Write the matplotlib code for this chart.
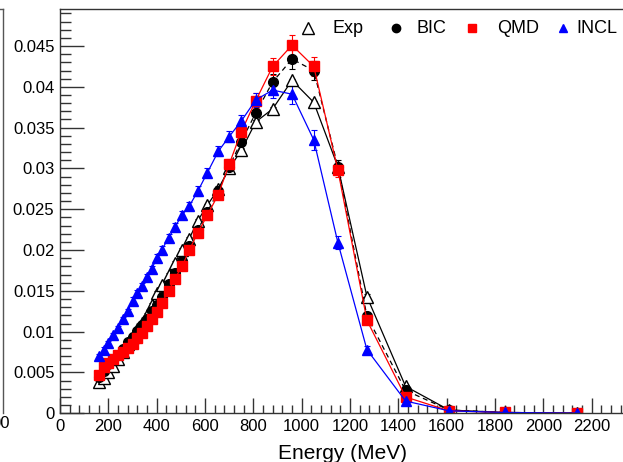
import matplotlib.pyplot as plt
from matplotlib.lines import Line2D

plt.rcParams['font.family'] = ['Liberation Sans', 'DejaVu Sans']

# energy bins (MeV)
energy = [160, 180, 200, 220, 240, 260, 280, 300, 320, 340, 360, 380, 400, 420,
          450, 475, 505, 535, 570, 610, 655, 700, 750, 810, 880, 960, 1050,
          1150, 1270, 1430, 1610, 1840, 2140]

exp_vals = [0.0038, 0.0043, 0.0050, 0.0058, 0.0066, 0.0075, 0.0085, 0.0094,
            0.0103, 0.0111, 0.0121, 0.0133, 0.0148, 0.0157, 0.0170, 0.0184,
            0.0200, 0.0214, 0.0236, 0.0255, 0.0275, 0.0300, 0.0322, 0.0357,
            0.0373, 0.0408, 0.0381, 0.0302, 0.0143, 0.0033, 0.0004, 0.0001,
            0.00003]
bic_vals = [0.0045, 0.0052, 0.0060, 0.0066, 0.0072, 0.0079, 0.0087, 0.0094,
            0.0101, 0.0108, 0.0116, 0.0125, 0.0133, 0.0142, 0.0158, 0.0172,
            0.0187, 0.0205, 0.0225, 0.0247, 0.0272, 0.0302, 0.0333, 0.0368,
            0.0406, 0.0434, 0.0420, 0.0302, 0.0119, 0.0028, 0.0004, 0.0001,
            0.00003]
qmd_vals = [0.0047, 0.0057, 0.0062, 0.0067, 0.0071, 0.0075, 0.0080, 0.0085,
            0.0092, 0.0099, 0.0107, 0.0115, 0.0124, 0.0135, 0.0150, 0.0165,
            0.0180, 0.0200, 0.0221, 0.0243, 0.0268, 0.0305, 0.0345, 0.0383,
            0.0425, 0.0451, 0.0425, 0.0298, 0.0114, 0.0020, 0.0003, 0.0001,
            0.00003]
incl_vals = [0.0070, 0.0078, 0.0086, 0.0096, 0.0104, 0.0115, 0.0125, 0.0138,
             0.0147, 0.0156, 0.0167, 0.0177, 0.0190, 0.0200, 0.0215, 0.0228,
             0.0243, 0.0254, 0.0272, 0.0295, 0.0321, 0.0339, 0.0358, 0.0384,
             0.0396, 0.0391, 0.0335, 0.0209, 0.0078, 0.0015, 0.0003, 0.0001,
             0.00003]

# statistical errors of the simulations and the measurement
model_err = [0.0003, 0.0003, 0.0003, 0.0003, 0.0003, 0.0003, 0.0003, 0.0004,
             0.0004, 0.0004, 0.0004, 0.0004, 0.0005, 0.0005, 0.0005, 0.0005,
             0.0005, 0.0005, 0.0006, 0.0006, 0.0006, 0.0007, 0.0008, 0.0009,
             0.0010, 0.0012, 0.0012, 0.0008, 0.0005, 0.0003, 0.0001, 0.0001,
             0.00005]
exp_err = [0.0002] * 26 + [0.0002, 0.0002, 0.0003, 0.0002, 0.0001, 0.0001, 0.00005]

fig = plt.figure(figsize=(6.23, 4.62), dpi=100)
W, H = 580.0, 404.0  # axes size in pixels
ax = fig.add_axes([60 / 623, 1 - 413.3 / 462, W / 623, H / 462])

series = [
    (exp_vals, exp_err, 'Exp', dict(color='black', marker='^', mfc='white',
                                    mec='black', ms=8, ls='-')),
    (bic_vals, model_err, 'BIC', dict(color='black', marker='o', ms=7,
                                      ls=(0, (4, 3)))),
    (qmd_vals, model_err, 'QMD', dict(color='red', marker='s', ms=7.5, ls='-')),
    (incl_vals, model_err, 'INCL', dict(color='blue', marker='^', ms=7.5,
                                        ls='-')),
]
for vals, err, name, style in series:
    ax.errorbar(energy, vals, yerr=err, lw=0.9, elinewidth=0.8, capsize=2,
                capthick=0.8, **style)

# legend row along the top of the frame (marker x, text x in axes pixels)
legend_pos = [(248, 273), (336, 357), (412, 437), (503, 516)]
for (mx, tx), (_, _, name, style) in zip(legend_pos, series):
    ax.plot([mx / W], [1 - 19 / H], transform=ax.transAxes, clip_on=False,
            ls='none', marker=style['marker'], color=style['color'],
            mfc=style.get('mfc', style['color']),
            mec=style.get('mec', style['color']),
            ms=8 if name == 'Exp' else 6)
    ax.text(tx / W, 1 - 19 / H, name, transform=ax.transAxes, fontsize=13,
            ha='left', va='center')

ax.set_xlim(0, 2400)
ax.set_ylim(0, 0.0495)
ax.set_xticks(range(0, 2401, 200))
ax.set_xticklabels([str(v) for v in range(0, 2201, 200)] + [''])
ax.set_xticks(range(0, 2401, 40), minor=True)
ax.set_yticks([i * 0.005 for i in range(10)])
ax.set_yticklabels(['0', '0.005', '0.01', '0.015', '0.02', '0.025', '0.03',
                    '0.035', '0.04', '0.045'])
ax.set_yticks([i * 0.001 for i in range(50)], minor=True)
ax.tick_params(which='both', direction='in', labelsize=12, color='#333333',
               width=1)
ax.tick_params(axis='x', which='major', length=11, pad=4)
ax.tick_params(axis='x', which='minor', length=6)
ax.tick_params(axis='y', which='major', length=17, pad=4)
ax.tick_params(axis='y', which='minor', length=8)
for sp in ax.spines.values():
    sp.set_color('#333333')
    sp.set_linewidth(1)

ax.set_xlabel('Energy (MeV)', fontsize=15, labelpad=4)
ax.xaxis.set_label_coords(283 / W, -0.075)

# frame edge of the neighbouring pad
fig.add_artist(Line2D([3 / 623, 3 / 623], [1 - 9.3 / 462, 1 - 413.3 / 462],
                      color='#555555', lw=1))
fig.add_artist(Line2D([0, 3 / 623], [1 - 9.3 / 462, 1 - 9.3 / 462],
                      color='#555555', lw=1))
fig.text(10 / 623, 1 - 423 / 462, '00', ha='right', va='center', fontsize=12)

fig.savefig('out.png', dpi=100)
